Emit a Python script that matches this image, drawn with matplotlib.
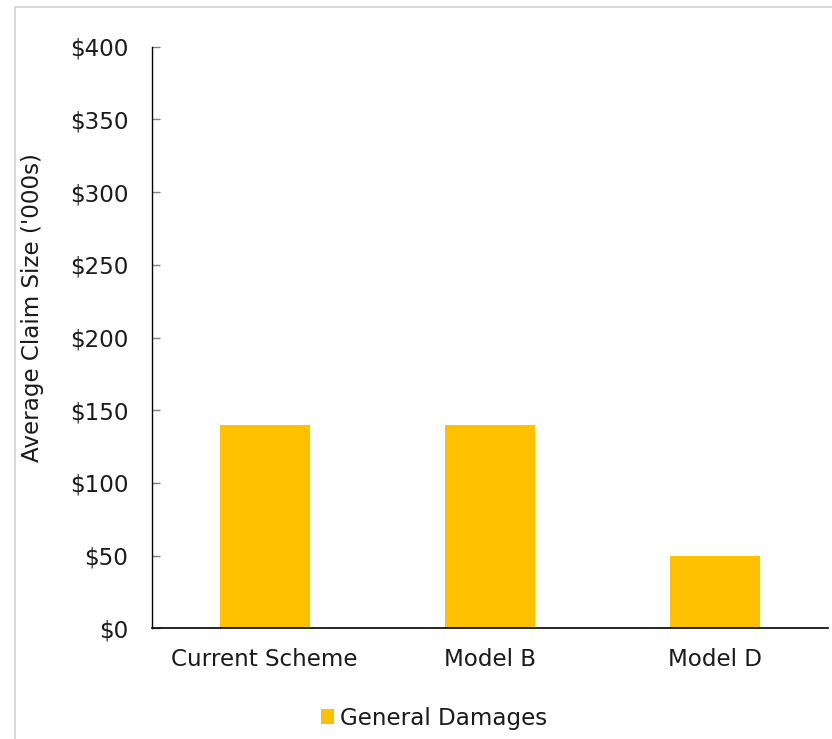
import matplotlib
matplotlib.use("Agg")
import matplotlib.pyplot as plt
from matplotlib.patches import Rectangle
from matplotlib.ticker import FuncFormatter

categories = ["Current Scheme", "Model B", "Model D"]
general_damages = [140, 140, 50]
series_name = "General Damages"
y_label = "Average Claim Size ('000s)"

plt.rcParams['font.family'] = ['DejaVu Sans']
FS = 16.6

fig = plt.figure(figsize=(8.32, 7.39), dpi=100)
W, H = 832, 739
fig.patches.append(Rectangle((15 / W, -0.1), 1.2, 1 - 7 / H + 0.1, transform=fig.transFigure,
                             fill=False, edgecolor='#d9d9d9', linewidth=1.5, zorder=0))
ax = fig.add_axes([152 / W, 1 - 628.3 / H, (828 - 152) / W, (628.3 - 46.7) / H])

x = list(range(len(categories)))
bars = ax.bar(x, general_damages, width=0.4, color='#FFC000', label=series_name, zorder=2)

ax.set_xlim(-0.5, len(categories) - 0.5)
ax.set_ylim(0, 400)
ax.set_yticks(range(0, 401, 50))
ax.yaxis.set_major_formatter(FuncFormatter(lambda v, p: f"${int(v)}"))
ax.set_xticks(x)
ax.set_xticklabels(categories)

for s in ['top', 'right']:
    ax.spines[s].set_visible(False)
ax.spines['left'].set_color('black')
ax.spines['bottom'].set_color('black')
ax.spines['left'].set_linewidth(1.0)
ax.spines['bottom'].set_linewidth(1.2)

ax.tick_params(axis='y', direction='in', length=5.8, width=1, color='#808080',
               labelsize=FS, pad=17, labelcolor='#1a1a1a')
ax.tick_params(axis='x', length=0, labelsize=FS, pad=14, labelcolor='#1a1a1a')
ax.set_ylabel(y_label, fontsize=FS, color='#1a1a1a')
ax.yaxis.set_label_coords((44 - 152) / 676, (628.3 - 308) / 581.6)

leg = fig.legend(handles=[bars], labels=[series_name], loc='center',
                 bbox_to_anchor=(434 / W, 1 - 718 / H), frameon=False, fontsize=FS,
                 handlelength=0.6, handleheight=0.6, handletextpad=0.25)
for t in leg.get_texts():
    t.set_color('#1a1a1a')

fig.savefig("out.png", dpi=100)
